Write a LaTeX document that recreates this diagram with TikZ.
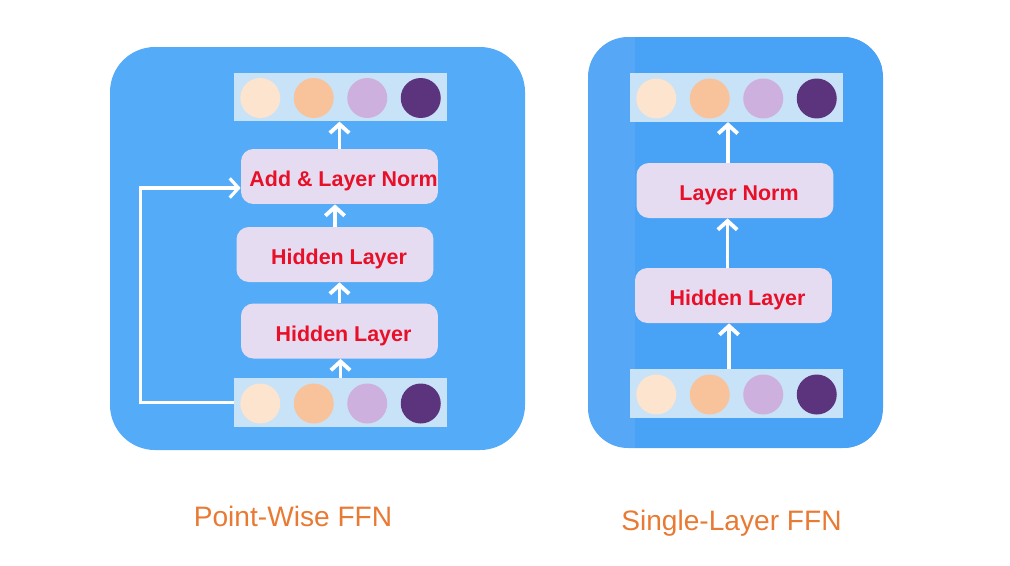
\documentclass[tikz,border=0pt]{standalone}
\usepackage{fontspec}
\setmainfont{Liberation Sans}
\usetikzlibrary{arrows.meta,calc}

\definecolor{panelA}{RGB}{84,171,247}
\definecolor{panelB}{RGB}{72,162,245}
\definecolor{stripB}{RGB}{86,168,246}
\definecolor{barfill}{RGB}{200,226,248}
\definecolor{boxfill}{RGB}{230,220,242}
\definecolor{redtxt}{RGB}{232,16,40}
\definecolor{titleorange}{RGB}{232,122,52}
\definecolor{unitA}{RGB}{252,228,206}
\definecolor{unitB}{RGB}{248,195,155}
\definecolor{unitC}{RGB}{205,176,222}
\definecolor{unitD}{RGB}{92,52,126}

\tikzset{%
  every layer/.style={
    rectangle,
    rounded corners=7pt,
    fill=boxfill,
    minimum width=3.94cm,
    minimum height=1.1cm,
    text height=14pt,
    text depth=2.5pt,
    font=\bfseries\fontsize{12.2}{14}\selectfont,
    text=redtxt,
    execute at begin node=\hspace*{4.6pt}
  },
  every vector/.style={
    rectangle,
    fill=barfill,
    minimum width=4.26cm,
    minimum height=0.97cm
  },
  every unit/.style={
    circle,
    inner sep=0pt,
    minimum size=0.8cm
  },
  flow/.style={
    draw=white,
    line width=2.2pt,
    -{Straight Barb[length=5pt,width=11pt]}
  },
  every title/.style={
    anchor=base,
    text=titleorange,
    font=\fontsize{16}{19}\selectfont
  },
}

\begin{document}
\begin{tikzpicture}[x=0.02cm, y=-0.02cm]
\useasboundingbox (0,0) rectangle (1010,565);

% panels
\fill[panelA, rounded corners=0.9cm] (110,47) rectangle (525,450);
\fill[stripB, rounded corners=0.8cm] (588,37) rectangle (883,448);
\begin{scope}
  \clip[rounded corners=0.8cm] (588,37) rectangle (883,448);
  \fill[panelB] (635,37) rectangle (883,448);
\end{scope}

% vectors
\foreach \n/\x/\y in {out-a/340.5/97, in-a/340.5/402.5, out-b/736.5/97.5, in-b/736.5/393.5}
  \node [every vector] (\n) at (\x,\y) {};

\foreach \v in {out-a,in-a,out-b,in-b}
  \foreach \c [count=\i] in {unitA,unitB,unitC,unitD}
    \node [every unit, fill=\c] (\v-\i) at ($(\v)+({(\i-2.5)*53.5},1)$) {};

% layers
\node [every layer, inner xsep=0pt] (add) at (339.5,176.5) {Add \& Layer Norm};
\node [every layer] (hid-a2) at (335,254.5) {Hidden Layer};
\node [every layer] (hid-a1) at (339.5,331) {Hidden Layer};
\node [every layer] (norm) at (735,190.5) {Layer Norm};
\node [every layer] (hid-b) at (733.5,295.5) {Hidden Layer};

% arrows
\draw [flow] (in-a.north) -- (in-a.north |- hid-a1.south);
\draw [flow] (hid-a1.north) -- (hid-a1.north |- hid-a2.south);
\draw [flow] (hid-a2.north) -- (hid-a2.north |- add.south);
\draw [flow] (add.north) -- (add.north |- out-a.south);
\draw [flow, line width=1.8pt] (in-a.west) -- ++(-93,0) |- ([yshift=-0.23cm]add.west);

\draw [flow] ([xshift=-0.15cm]in-b.north) -- ([xshift=-0.15cm]in-b.north |- hid-b.south);
\draw [flow] ([xshift=-0.12cm]hid-b.north) -- ([xshift=-0.12cm]hid-b.north |- norm.south);
\draw [flow] ([xshift=-0.14cm]norm.north) -- ([xshift=-0.14cm]norm.north |- out-b.south);

% titles
\node [every title] (title-a) at (293,526) {Point-Wise FFN};
\node [every title] (title-b) at (731.5,530) {Single-Layer FFN};

\end{tikzpicture}
\end{document}
